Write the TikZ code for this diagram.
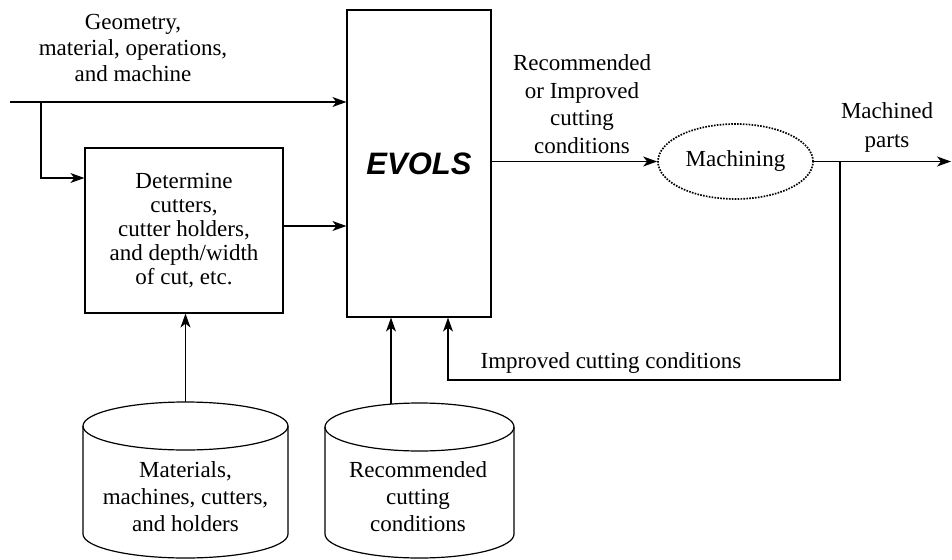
\documentclass[tikz,border=0pt]{standalone}
\usepackage{fontspec}
\setmainfont{Liberation Serif}
\setsansfont{Liberation Sans}
\usetikzlibrary{arrows.meta,shapes.geometric}
\begin{document}
\begin{tikzpicture}[x=1pt,y=-1pt,
  line width=1.2pt,
  arr/.style={-{Stealth[length=14pt,width=10pt,inset=4pt]}},
  txt/.style={align=center,inner sep=0pt,font=\fontsize{23}{26}\selectfont},
  boxnode/.style={draw,rectangle,inner sep=0pt},
  dots/.style={draw,line width=1.7pt,dash pattern=on 1.6pt off 1.3pt},
  cyl/.style={line width=1.2pt}]
\useasboundingbox[fill=white] (0,0) rectangle (952,559);

% main blocks
\node[boxnode,minimum width=144pt,minimum height=307pt,
      font=\sffamily\bfseries\itshape\fontsize{31}{31}\selectfont] (evols) at (419,163.5) {EVOLS};
\node[boxnode,minimum width=198pt,minimum height=165pt,align=center,
      font=\fontsize{23}{24}\selectfont] (det) at (184,230.5)
      {Determine\\cutters,\\cutter holders,\\and depth/width\\of cut, etc.};
\node[ellipse,dots,minimum width=155pt,minimum height=75pt,inner sep=0pt,
      font=\fontsize{23}{26}\selectfont] (mach) at (735.5,161.5) {Machining};

% databases (cylinders)
\draw[cyl] (185.5,426) ellipse [x radius=102.5, y radius=24];
\draw[cyl] (83,426) -- (83,534)
  .. controls (83,547.3) and (128.9,558) .. (185.5,558)
  .. controls (242.1,558) and (288,547.3) .. (288,534) -- (288,426);
\draw[cyl] (419.5,427) ellipse [x radius=94.5, y radius=24];
\draw[cyl] (325,427) -- (325,534)
  .. controls (325,547.3) and (367.3,558) .. (419.5,558)
  .. controls (471.7,558) and (514,547.3) .. (514,534) -- (514,427);
\node[txt,font=\fontsize{23}{27}\selectfont] (db1) at (185.5,497) {Materials,\\machines, cutters,\\and holders};
\node[txt,font=\fontsize{23}{27}\selectfont] (db2) at (418,497) {Recommended\\cutting\\conditions};

% labels
\node[txt] (lgeo) at (133,48) {Geometry,\\material, operations,\\and machine};
\node[txt,font=\fontsize{23}{27.5}\selectfont] (lrec) at (582,104) {Recommended\\or Improved\\cutting\\conditions};
\node[txt,font=\fontsize{23}{29}\selectfont] (lmp) at (887,127) {Machined\\parts};
\node[txt,anchor=west] (limp) at (480,363) {Improved cutting conditions};

% coordinates
\coordinate (in) at (10,102);
\coordinate (br) at (41,102);
\coordinate (brd) at (41,178);
\coordinate (d2e) at (300,226);
\coordinate (db1top) at (185.5,402);
\coordinate (db2top) at (391,404.3);
\coordinate (fb1) at (840,161.5);
\coordinate (fb2) at (840,380);
\coordinate (fb3) at (448,380);
\coordinate (out) at (951,161.5);

% connectors
\draw[arr] (in) -- (in -| evols.west);
\draw[arr] (br) -- (brd) -- (brd -| det.west);
\draw[arr] (det.east |- d2e) -- (evols.west |- d2e);
\draw[arr] (evols.east |- mach.west) -- (mach.west);
\draw[arr] (mach.east) -- (out);
\draw[arr] (fb1) -- (fb2) -- (fb3) -- (fb3 |- evols.south);
\draw[arr] (db1top) -- (db1top |- det.south);
\draw[arr] (db2top) -- (db2top |- evols.south);
\end{tikzpicture}
\end{document}
